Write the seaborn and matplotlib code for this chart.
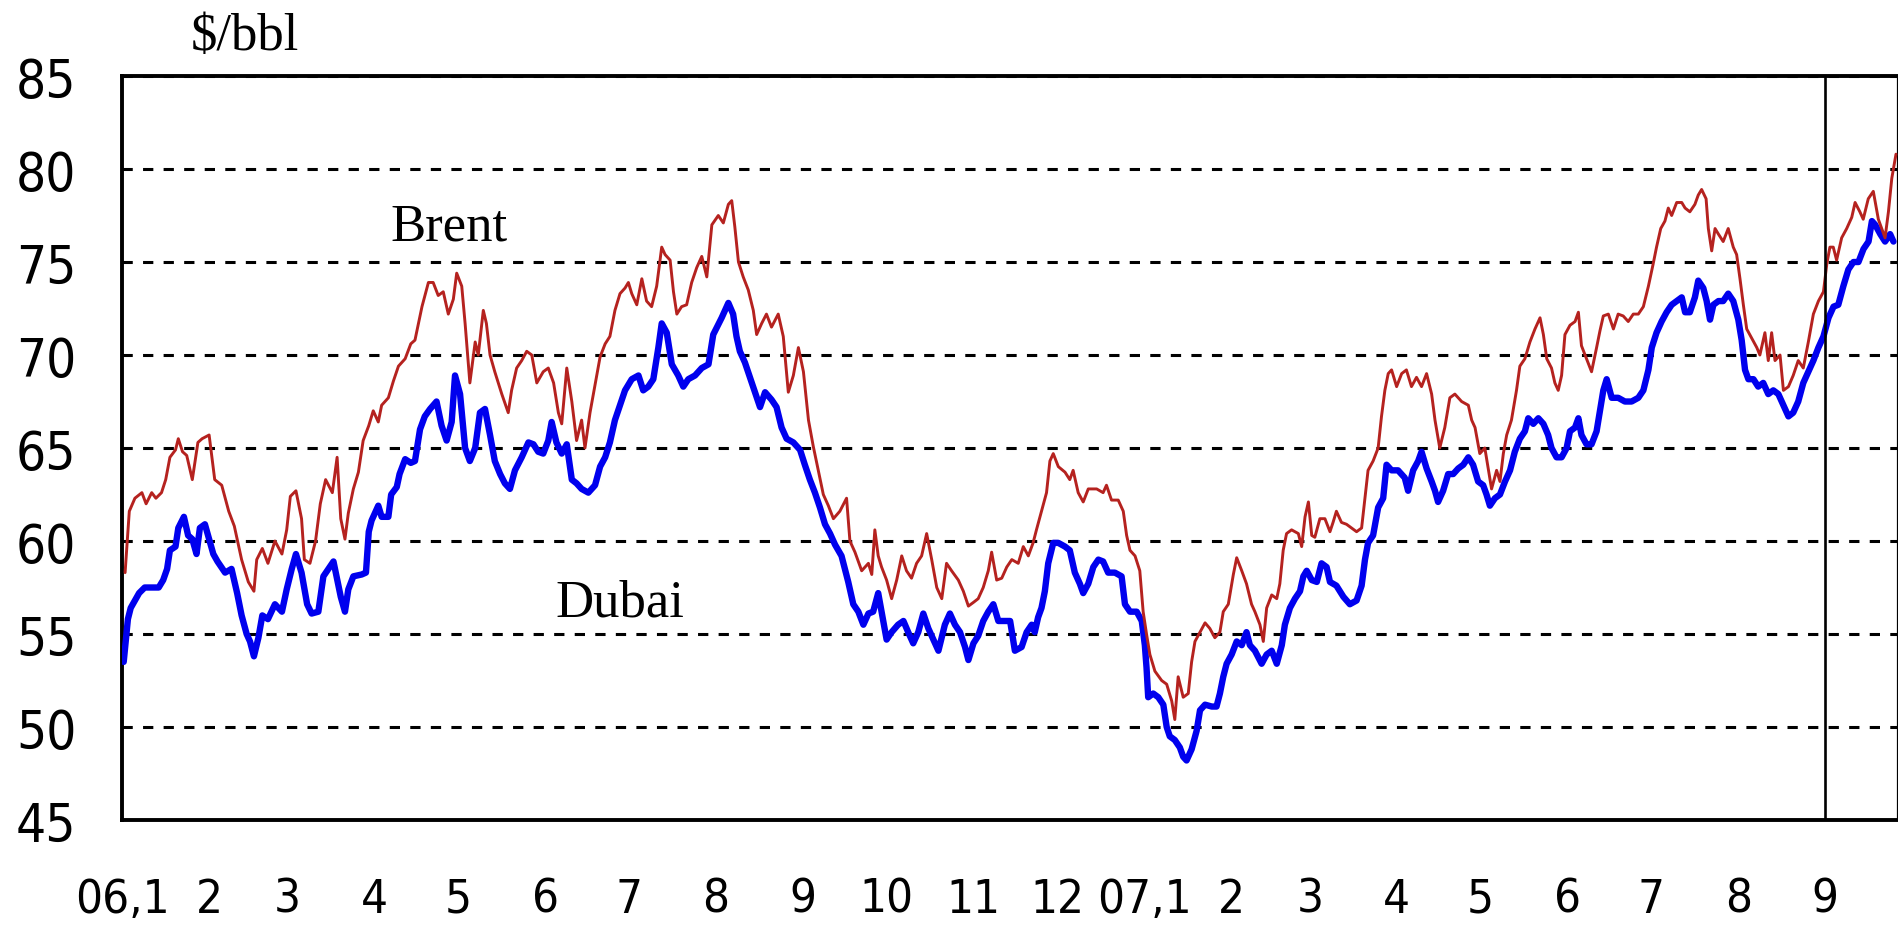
import pandas as pd
import numpy as np
import matplotlib
matplotlib.use('Agg')
import matplotlib.pyplot as plt
from matplotlib import font_manager as fm
import seaborn as sns

# Daily oil prices ($/bbl)
# days counted from 2006-01-01
brent_days = [
    1, 2.5, 4.5, 7, 8.5, 10.5, 12, 14, 15.5, 17, 19, 20, 21.5, 23, 25, 27, 28.5, 31, 33, 35.5,
    38, 40, 42.6, 45, 47, 48, 50, 52, 54.5, 57, 58.7, 60, 62, 64, 65, 67, 69, 70.7, 72.6, 75,
    76.7, 78, 79.5, 80.7, 82.5, 84.3, 86, 88, 89.6, 91.4, 92.6, 95, 96.8, 98.6, 101, 103,
    104.5, 107, 109.3, 111, 112.8, 114.6, 116.4, 118.2, 119.4, 121.2, 122.4, 124.1, 126, 127.1,
    128.9, 130, 131.3, 133, 135.5, 137.8, 139, 140.8, 142.6, 144.4, 146.2, 148, 150.3, 152.1,
    154, 155.7, 156.9, 158.7, 160.5, 162.2, 164, 165.2, 167, 168.8, 170.6, 172.4, 174.1, 175.9,
    177.7, 179.5, 180.7, 181.9, 183.7, 185.5, 187.2, 189, 190.8, 192.6, 193.8, 195.6, 196.8,
    198, 199.7, 201.5, 203.3, 205.1, 206.9, 208.7, 210.5,
    212.8, 214.6, 216.4, 217.6, 218.7, 220, 221.7, 223.5, 225.3, 226.5, 228.3, 230, 231.8,
    234.2, 236, 237.8, 239.6, 241.4, 243.2, 245, 246.7, 248.5, 250.3, 252.1, 253.9, 256.2,
    258.6, 259.8, 261.6, 264, 266.4, 267.6, 268.7, 269.9, 271.1, 272.9, 274.7, 276.5, 278.3,
    280, 281.8, 283.6, 285.4, 287.2, 289, 290.8, 292.6, 294.3, 296.1, 298.5, 300.3, 302.1,
    303.9, 305.6, 307.4, 309.2, 310.4, 312.2, 314, 315.8, 317.6,
    319.9, 321.7, 323.5, 325.2, 326.4, 328.2, 330, 331.2, 332.4, 334.2, 336.6, 338.3, 339.5,
    341.3, 343.1, 344.9, 347.9, 350.2, 351.4, 353.2, 355.6, 357.4, 358.6, 359.8, 361.6, 363.3,
    364.5, 365.7, 366.9, 368.7, 371.1, 372.9, 374.7, 375.8, 377, 378.8, 380.6, 381.8, 383,
    384.8, 386.6, 388.3, 390.1, 391.9, 393.1, 394.9, 396.7, 397.9, 399.7, 401.4, 403.2, 404.4,
    406.2, 407.4, 408.6, 410.4, 412.2, 413.3, 414.5, 415.7, 417.5, 419.9, 421.1, 422.3, 423.5,
    424.7, 425.8, 427.6, 429.4, 431.2, 432.3, 433.5, 435.3, 437.1, 438.9, 440.7, 442.5, 443.7,
    444.8, 446.6, 448.4, 449.6, 450.8, 452, 453.2, 455, 456.8, 458.5, 460.3, 462.1, 463.9,
    465.7, 467.5, 468.7, 470.4, 472.2, 474, 475.8, 478.2, 480.6, 481.8, 483, 484.7, 486.5,
    487.7, 488.9, 490.7, 491.9, 493.1, 494.3, 496, 497.8, 499, 500.8, 502.6, 504.4, 506.2,
    507.4, 508.6, 510.3, 511.5, 512.7, 513.9, 515.1, 516.9, 518.7, 519.9, 521, 522.8, 524.6,
    526.4, 527.6, 528.8, 530.6, 532.4, 534.1, 535.9, 537.7, 539.5, 541.3, 543.1, 544.9, 546.6,
    547.8, 549.3, 550.8, 552, 553.2, 555, 556.8, 558, 559.7, 561.5, 562.7, 563.9, 565.5,
    566.3, 567.5, 568.7, 569.9, 571.6, 573.4, 575.2, 576.4, 577.6, 578.8, 580, 581.8, 583.6,
    584.7, 586.5, 587.7, 588.9, 590.1, 591.9, 593.1, 594.9, 596.6, 598.4, 600.2, 602, 603.8,
    605.6, 607.4, 608.6, 609.7, 610.9, 612.1, 613.9, 615.7, 617.5, 618.7, 620.4, 621.6, 623.4,
    625.2, 627, 628.2, 629.4, 630.6, 631.8, 633.3,
]
brent_usd = [
    58.3, 61.6, 62.3, 62.6, 62.0, 62.6, 62.3, 62.6, 63.3, 64.5, 64.9, 65.5, 64.8, 64.6, 63.3, 65.3, 65.5, 65.7, 63.3, 63.0,
    61.6, 60.8, 59.0, 57.8, 57.3, 59.0, 59.6, 58.8, 60.0, 59.3, 60.6, 62.4, 62.7, 61.2, 59.0, 58.8, 60.0, 62.0, 63.3, 62.6,
    64.5, 61.2, 60.1, 61.5, 62.8, 63.7, 65.4, 66.2, 67.0, 66.4, 67.3, 67.7, 68.6, 69.4, 69.8, 70.6,
    70.8, 72.6, 73.9, 73.9, 73.2, 73.4, 72.2, 73.0, 74.4, 73.7, 71.7, 68.5, 70.7, 70.0,
    72.4, 71.7, 70.0, 69.1, 67.9, 66.9, 68.1, 69.3, 69.7, 70.2, 70.0, 68.5, 69.1, 69.3,
    68.5, 66.9, 66.3, 69.3, 67.5, 65.4, 66.5, 65.0, 66.9, 68.4, 69.9, 70.6, 71.0, 72.4,
    73.3, 73.6, 73.9, 73.3, 72.7, 74.1, 72.9, 72.6, 73.7, 75.8, 75.4, 75.1, 73.4,
    72.2, 72.6, 72.7, 73.9, 74.7, 75.3, 74.2, 77.0,
    77.5, 77.1, 78.1, 78.3, 76.9, 75.0, 74.2, 73.5, 72.4, 71.1, 71.7, 72.2, 71.5,
    72.2, 71.0, 68.0, 68.9, 70.4, 69.1, 66.5, 65.1, 63.8, 62.5, 61.9, 61.2, 61.6,
    62.3, 60.0, 59.4, 58.4, 58.8, 58.2, 60.6, 59.2, 58.6, 57.9, 56.9, 57.9, 59.2,
    58.4, 58.0, 58.8, 59.2, 60.4, 59.0, 57.5, 56.9, 58.8, 58.4, 57.9, 57.3, 56.5,
    56.7, 56.9, 57.5, 58.4, 59.4, 57.9, 58.0, 58.6, 59.0,
    58.8, 59.7, 59.2, 59.9, 60.6, 61.6, 62.6, 64.3, 64.7, 64.0, 63.7, 63.3, 63.8,
    62.6, 62.1, 62.8, 62.8, 62.6, 63.0, 62.2, 62.2, 61.6, 60.3, 59.5, 59.2, 58.4,
    56.2, 55.0, 53.9, 53.0, 52.5, 52.3, 51.4, 50.4, 52.7, 51.6, 51.8, 53.5, 54.6,
    55.1, 55.6, 55.3, 54.8, 55.1, 56.2, 56.6, 58.2, 59.1, 58.4, 57.7, 56.6, 56.2,
    55.5, 54.6, 56.4, 57.1, 56.9, 57.7, 59.5, 60.4, 60.6, 60.4, 59.7, 61.3, 62.1,
    60.3, 60.2, 61.2, 61.2, 60.5, 61.0, 61.6, 61.0, 60.9, 60.7, 60.5, 60.7, 62.3,
    63.8, 64.3, 65.0, 66.7, 68.1, 69.0, 69.2, 68.3, 69.0, 69.2, 68.3, 68.8, 68.3,
    69.0, 67.9, 66.5, 65.0, 66.1, 67.7, 67.9, 67.5, 67.3, 66.5, 66.1, 64.7, 65.0,
    63.9, 62.8, 63.8, 63.2, 64.7, 65.7, 66.5, 68.1, 69.4, 69.8, 70.7, 71.4, 72.0,
    71.1, 69.8, 69.3, 68.5, 68.1, 68.9, 71.1, 71.6, 71.8, 72.3, 70.5, 69.8, 69.1,
    70.4, 71.3, 72.1, 72.2, 71.4, 72.2, 72.1, 71.8, 72.2, 72.2, 72.6, 73.7, 74.9,
    75.8, 76.8, 77.2, 77.9, 77.5, 78.2, 78.2, 77.9, 77.7, 78.1, 78.6, 78.9, 78.4,
    76.8, 75.6, 76.8, 76.5, 76.1, 76.8, 75.8, 75.4, 74.1, 72.7, 71.4, 70.9, 70.4,
    70.0, 71.2, 69.7, 71.2, 69.7, 70.0, 68.1, 68.3, 68.9, 69.7, 69.3, 70.7, 72.2,
    72.9, 73.4, 74.9, 75.8, 75.8, 75.1, 76.3, 76.8, 77.4, 78.2, 77.7, 77.3, 78.4,
    78.8, 77.3, 76.8, 76.3, 77.7, 79.5, 80.8,
]

dubai_days = [
    0.5, 2, 3, 6, 8, 10.5, 13, 14.6, 16, 17, 19, 20, 22, 23.5, 25, 26.5, 27.7, 29.5, 31, 32.5,
    34, 36.7, 39, 41, 42.6, 44.4, 45.6, 47, 48.6, 50, 52, 54.5, 57, 58.7, 60.5, 62, 64, 66,
    67.6, 70, 71.8, 73.6, 75.4, 76.5, 78, 79.5, 80.7, 82.5, 85.5, 87, 88, 89, 91.4, 92.6, 95,
    96, 98, 99, 101, 103,
    104.5, 106.3, 108, 109.9, 112.2, 114, 115.8, 117.6, 118.8, 120.6, 122.4, 124.1, 126, 127.7,
    129.5, 131.3, 133, 134.9, 136.6, 138.4, 140.2, 142.6, 145, 146.8, 148.5, 150.3, 152.1,
    153.3, 155, 156.9, 158.7, 160.5, 162.2, 164, 166.4, 168.8, 170.6, 172.4, 174.1, 175.9,
    177.7, 179.5, 181.9, 184.3, 186, 187.8, 189.6, 191.4, 192.6, 194.4, 196.2, 198.5, 200.3,
    202.1, 204.5, 206.9, 209.3, 211,
    214, 216.4, 218.1, 219.3, 220.5, 222.3, 224.1, 225.9, 227.7, 229.5, 231.8, 233.6, 235.4,
    237.2, 239.6, 242, 243.7, 245.5, 247.3, 249.1, 250.9, 252.7, 254.5, 256.8, 259.2, 261,
    262.8, 264.6, 266.4, 268.1, 269.9, 271.1, 272.9, 274.7, 277, 278.9, 280.6, 282.4, 284.2,
    286, 287.8, 289.6, 291.4, 293.7, 295.5, 297.3, 299.1, 300.9, 302.1, 303.9, 305.6, 307.4,
    309.2, 311, 312.8, 315.2, 317,
    318.7, 321.1, 322.9, 324.7, 325.8, 327, 328.2, 329.4, 330.6, 332.4, 334.2, 336.6, 338.3,
    340.1, 341.9, 343.1, 344.9, 346.7, 348.5, 350.2, 352, 354.4, 356.8, 358, 359.8, 362.2,
    364, 365.1, 365.7, 366.3, 368.1, 369.9, 371.7, 372.9, 374, 375.8, 377.6, 378.8, 380,
    381.8, 383.6, 384.8, 386.6, 389, 390.7, 391.9, 393.1, 394.3, 396.1, 397.9, 399.7, 401.4,
    402.6, 404.4, 406.8, 408.6, 410.4, 412.2, 414, 415.1, 416.9, 418.7, 420.5, 421.7, 422.9,
    424.7, 426.5, 428.2, 430, 431.2, 433.5, 436, 438.3, 440.7, 442.5, 443.7, 444.8, 446.6,
    448.4, 450.2, 451.4, 453.2, 455.5, 457.9, 459.1, 460.9, 462.7, 463.9, 465.7, 467.5, 468.7,
    469.8, 471.6, 473.4, 475.2, 477, 478.8, 480.6, 482.3, 484.1, 485.9, 487.1, 488.3, 490.1,
    491.9, 493.7, 495.5, 497.2, 499, 500.8, 502, 503.8, 505.6, 507.4, 509.1, 510.3, 512.1,
    513.9, 515.7, 516.9, 518.7, 519.9, 521, 522.8, 524.6, 526.4, 527.6,
    528.8, 530, 531.8, 534.1, 536.5, 538.9, 541.3, 543.1, 544.9, 546.1, 547.8, 549.6, 551.4,
    553.2, 555, 556.8, 558, 559.7, 561.5, 562.7, 564.5, 565.7, 566.9, 568.1, 569.9, 571.6,
    573.4, 575.2, 577, 578.2, 579.4, 580.6, 582.4, 584.1, 585.9, 587.7, 589.5, 591.3, 593.1,
    594.9, 596.6, 598.4, 600.2, 602, 603.8, 605.6, 607.4, 609.2, 611, 612.7, 614.5, 616.3,
    618.1, 619.9, 621.7, 623.5, 624.7, 625.9, 627.7, 629.4, 631.2, 632.4,
]
dubai_usd = [
    53.5, 55.8, 56.4, 57.2, 57.5, 57.5, 57.5, 57.9, 58.5, 59.5, 59.7, 60.7, 61.3, 60.3, 60.1, 59.3, 60.7, 60.9, 60.1, 59.3,
    58.9, 58.3, 58.5, 57.2, 56.0, 55.0, 54.6, 53.8, 54.8, 56.0, 55.8, 56.6, 56.2, 57.4, 58.5, 59.3, 58.3, 56.6,
    56.1, 56.2, 58.1, 58.5, 58.9, 58.1, 57.0, 56.2, 57.4, 58.1, 58.2, 58.3, 60.5, 61.1, 61.9, 61.3, 61.3,
    62.5, 62.9, 63.6, 64.4, 64.2,
    64.3, 66.0, 66.7, 67.1, 67.5, 66.2, 65.4, 66.4, 68.9, 67.9, 65.0, 64.3, 65.0, 66.9,
    67.1, 65.7, 64.3, 63.6, 63.1, 62.8, 63.8, 64.5, 65.3, 65.2, 64.8, 64.7, 65.4,
    66.4, 65.3, 64.7, 65.2, 63.3, 63.1, 62.8, 62.6, 63.0, 64.0, 64.5, 65.3, 66.5,
    67.3, 68.1, 68.7, 68.9, 68.1, 68.3, 68.7, 70.4, 71.7, 71.2, 69.5, 68.9, 68.3,
    68.7, 68.9, 69.3, 69.5, 71.1,
    72.0, 72.8, 72.2, 71.0, 70.2, 69.6, 68.8, 68.0, 67.2, 68.0, 67.6, 67.2, 66.1,
    65.5, 65.3, 64.9, 64.1, 63.3, 62.6, 61.8, 60.9, 60.4, 59.8, 59.2, 57.8, 56.6,
    56.2, 55.5, 56.1, 56.2, 57.2, 56.2, 54.7, 55.1, 55.5, 55.7, 55.1, 54.5, 55.1,
    56.1, 55.3, 54.7, 54.1, 55.5, 56.1, 55.5, 55.1, 54.3, 53.6, 54.5, 54.9, 55.7,
    56.2, 56.6, 55.7, 55.7, 55.7,
    54.1, 54.3, 55.1, 55.5, 55.1, 55.9, 56.4, 57.3, 58.8, 59.9, 59.9, 59.7, 59.5,
    58.3, 57.7, 57.2, 57.7, 58.6, 59.0, 58.9, 58.3, 58.3, 58.1, 56.6, 56.2, 56.2,
    55.7, 54.4, 53.2, 51.6, 51.8, 51.6, 51.2, 50.0, 49.5, 49.3, 48.9, 48.4, 48.2,
    48.8, 49.8, 50.9, 51.2, 51.1, 51.1, 51.8, 52.7, 53.4, 53.9, 54.6, 54.4, 55.1,
    54.4, 54.1, 53.4, 53.9, 54.1, 53.4, 54.4, 55.5, 56.4, 56.9, 57.3, 58.1, 58.4,
    57.9, 57.8, 58.8, 58.6, 57.8, 57.6, 57.0, 56.6, 56.8, 57.6, 59.0, 59.9, 60.3,
    61.8, 62.3, 64.1, 63.8, 63.8, 63.4, 62.7, 63.8, 64.3, 64.8, 63.9, 63.2, 62.7,
    62.1, 62.7, 63.6, 63.6, 63.9, 64.1, 64.5, 64.1, 63.2, 63.0, 62.5, 61.9, 62.3,
    62.5, 63.2, 63.8, 64.8, 65.5, 65.9, 66.6, 66.3, 66.6, 66.3, 65.7, 65.0, 64.5,
    64.5, 65.0, 65.9, 66.1, 66.6, 65.7, 65.2, 65.2, 65.9, 67.0,
    68.1, 68.7, 67.7, 67.7, 67.5, 67.5, 67.7, 68.1, 69.2, 70.4, 71.2, 71.8, 72.3,
    72.7, 72.9, 73.1, 72.3, 72.3, 73.1, 74.0, 73.6, 72.9, 71.9, 72.7, 72.9, 72.9,
    73.3, 72.9, 71.9, 70.8, 69.2, 68.7, 68.7, 68.3, 68.5, 67.9, 68.1, 67.9, 67.3,
    66.7, 66.9, 67.5, 68.5, 69.1, 69.7, 70.4, 71.0, 72.0, 72.6, 72.7, 73.7, 74.6,
    75.0, 75.0, 75.7, 76.1, 77.2, 77.0, 76.5, 76.1, 76.5, 76.1,
]

month_labels = ['06,1', '2', '3', '4', '5', '6', '7', '8', '9', '10', '11', '12',
                '07,1', '2', '3', '4', '5', '6', '7', '8', '9']
y_ticks = [45, 50, 55, 60, 65, 70, 75, 80, 85]

base = pd.Timestamp('2006-01-01')
brent = pd.DataFrame({'date': base + pd.to_timedelta(brent_days, unit='D'), 'price': brent_usd})
dubai = pd.DataFrame({'date': base + pd.to_timedelta(dubai_days, unit='D'), 'price': dubai_usd})
month_starts = pd.date_range('2006-01-01', periods=len(month_labels), freq='MS')


def find_narrow_font():
    # the original tick labels are set in a tall, narrow face
    narrow = []
    for f in fm.fontManager.ttflist:
        name = f.name.lower()
        fname = f.fname.lower()
        if f.style != 'normal':
            continue
        if 'mono' in name or 'serif' in name and 'sans' not in name:
            continue
        if ('narrow' in name or 'condensed' in name or 'narrow' in fname
                or 'condensed' in fname or str(f.stretch) in ('condensed', 'semi-condensed')):
            if 'bold' in fname or str(f.weight) in ('bold', '700'):
                continue
            narrow.append(f.fname)
    order = ['liberationsansnarrow', 'dejavusanscondensed', 'condensed', 'narrow']
    for key in order:
        for path in narrow:
            if key in path.lower().replace('-', '').replace('_', ''):
                return path
    return narrow[0] if narrow else None


sns.set_style('white')
narrow_path = find_narrow_font()
if narrow_path:
    x_prop = fm.FontProperties(fname=narrow_path, size=34)
    y_prop = fm.FontProperties(fname=narrow_path, size=38)
else:
    x_prop = fm.FontProperties(family='Liberation Sans', size=32)
    y_prop = fm.FontProperties(family='Liberation Sans', size=36)
plt.rcParams['font.family'] = ['Liberation Sans', 'DejaVu Sans']
plt.rcParams['text.color'] = 'black'
plt.rcParams['lines.scale_dashes'] = False
serif_font = 'Liberation Serif'

fig = plt.figure(figsize=(18.99, 9.37), dpi=100)
ax = fig.add_axes([0.0644, 0.1238, 0.9349, 0.794])

sns.lineplot(data=dubai, x='date', y='price', color='#0000EE', linewidth=4.6,
             estimator=None, ax=ax, zorder=3)
sns.lineplot(data=brent, x='date', y='price', color='#B5221F', linewidth=2.1,
             estimator=None, ax=ax, zorder=4)

# start of September 2007 marker
ax.axvline(month_starts[-1], color='black', linewidth=1.9, zorder=5)

ax.set_xlim(base, base + pd.Timedelta(days=633.9))
ax.set_ylim(45, 85)
ax.set_yticks(y_ticks)
ax.set_yticklabels([str(v) for v in y_ticks])
ax.set_xticks(month_starts)
ax.set_xticklabels(month_labels)
ax.set_xlabel('')
ax.set_ylabel('')
ax.tick_params(axis='both', length=0, colors='black')
ax.tick_params(axis='y', pad=33)
ax.tick_params(axis='x', pad=41)
for lab in ax.get_xticklabels():
    lab.set_fontproperties(x_prop)
for lab in ax.get_yticklabels():
    lab.set_fontproperties(y_prop)

ax.set_axisbelow(True)
ax.grid(axis='y', color='black', linewidth=2.2, linestyle=(0, (7.4, 7.4)))
ax.grid(axis='x', visible=False)

for side in ['left', 'top', 'bottom']:
    ax.spines[side].set_linewidth(2.8)
    ax.spines[side].set_color('black')
ax.spines['right'].set_linewidth(1.6)
ax.spines['right'].set_color('black')

ax.text(base + pd.Timedelta(days=95.6), 76.2, 'Brent', family=serif_font,
        fontsize=38, color='black', ha='left', va='baseline')
ax.text(base + pd.Timedelta(days=154.5), 56.0, 'Dubai', family=serif_font,
        fontsize=38, color='black', ha='left', va='baseline')
fig.text(0.1006, 0.9466, '$/bbl', family=serif_font, fontsize=38,
         color='black', ha='left', va='baseline')

fig.savefig('out.png', dpi=100)
plt.close(fig)
